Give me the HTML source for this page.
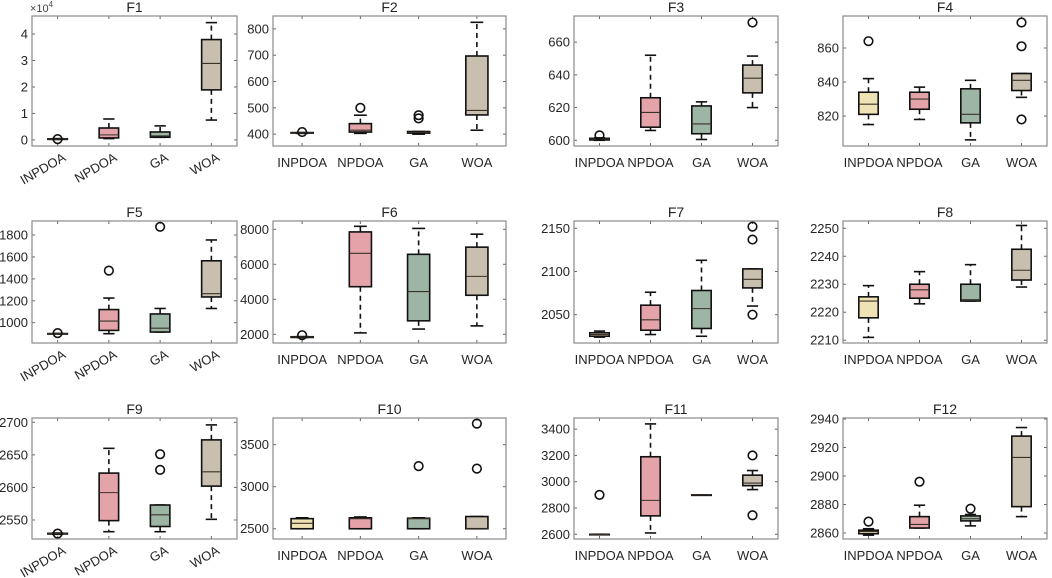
<!DOCTYPE html>
<html><head><meta charset="utf-8">
<style>
html,body{margin:0;padding:0;background:#fff;}
svg{display:block;font-family:"Liberation Sans",Arial,sans-serif;}
</style></head>
<body>
<svg id="chart" width="1052" height="578" viewBox="0 0 1052 578" xmlns="http://www.w3.org/2000/svg"></svg>
<script>
const categories = ["INPDOA","NPDOA","GA","WOA"];
const titles = ["F1","F2","F3","F4","F5","F6","F7","F8","F9","F10","F11","F12"];
const yMin = [-0.23,355,596.5,802.4,815,1503,2017.2,2209,2520.8,2378,2564,2855.8];
const yMax = [4.68,849,676,878.8,1928,8474,2158.5,2252.6,2706.6,3817,3485,2940.7];
const ticks = [
  [0,1,2,3,4],[400,500,600,700,800],[600,620,640,660],[820,840,860],
  [1000,1200,1400,1600,1800],[2000,4000,6000,8000],[2050,2100,2150],[2210,2220,2230,2240,2250],
  [2550,2600,2650,2700],[2500,3000,3500],[2600,2800,3000,3200,3400],[2860,2880,2900,2920,2940]
];
const lowWhisker = [
  [0.02,0.05,0.1,0.75],[403,403,400,415],[600,606,600.5,620],[815,818,806,831],
  [900,900,915,1130],[1820,2080,2300,2480],[2024,2027,2025,2060],[2211,2223,2224,2229],
  [2528,2532,2532,2551],[2500,2500,2500,2500],[2600,2610,2900,2940],[2858.5,2863.5,2865,2871.5]
];
const q1 = [
  [0.02,0.075,0.1,1.89],[404,408,404,473],[600.2,608,604,629],[821,824,816,835],
  [899,930,915,1235],[1820,4720,2770,4230],[2025,2032,2034,2081],[2218,2225,2224,2231.5],
  [2528.5,2549,2540,2602],[2500,2500,2500,2500],[2600,2740,2900,2970],[2859.5,2863.5,2868.5,2878.5]
];
const med = [
  [0.03,0.19,0.15,2.89],[405,415,407,490],[600.8,617,610,638],[827,830,821,841],
  [900,1015,950,1265],[1840,6630,4440,5310],[2027,2044,2057,2091],[2224,2228,2224.5,2235],
  [2529,2592,2558,2624],[2565,2620,2620,2500],[2600,2858,2900,2990],[2861,2866,2870,2913]
];
const q3 = [
  [0.04,0.45,0.3,3.79],[406,440,410,697],[601.2,626,621,646],[834,834,836,845],
  [901,1120,1080,1565],[1860,7850,6570,6980],[2029,2061,2078,2103],[2225.5,2230,2230,2242.5],
  [2529.5,2622,2573,2673],[2620,2630,2625,2645],[2600,3190,2900,3050],[2862,2871.5,2872,2928]
];
const upWhisker = [
  [0.05,0.79,0.53,4.43],[406,472,410,825],[601.5,652,623.5,651.5],[842,837,841,845],
  [902,1225,1130,1755],[1870,8170,8050,7720],[2031,2076,2113,2103],[2229.5,2234.5,2237,2251],
  [2530,2660,2573,2696],[2630,2640,2630,2645],[2600,3440,2900,3085],[2863,2879.5,2873,2934]
];
const outliers = [
  [[0.03],[],[],[]],[[408],[500],[460,472],[]],[[603],[],[],[672]],[[864],[],[],[875,861,818]],
  [[905],[1475],[1875],[]],[[1950],[],[],[]],[[],[],[],[2152,2137,2050]],[[],[],[],[]],
  [[2529],[],[2651,2627],[]],[[],[],[3245],[3750,3215]],[[2900],[],[],[3200,2745]],[[2868],[2896],[2877],[]]
];
const fills = ["#efe3b6","#e4a3a8","#9db5a5","#c8bfae"];

const NS="http://www.w3.org/2000/svg";
const svg=document.getElementById('chart');
function mk(tag,attrs,parent){const e=document.createElementNS(NS,tag);for(const k in attrs)e.setAttribute(k,attrs[k]);(parent||svg).appendChild(e);return e;}
const colL=[32,273,574,843], colR=[237,506,778,1047];
const rowT=[16,221,418], rowB=[146,343,539];

for(let p=0;p<12;p++){
  const c=p%4, r=Math.floor(p/4);
  const L=colL[c],R=colR[c],T=rowT[r],B=rowB[r];
  const g=mk('g',{});
  
  
  const X=i=>L+(i+0.5)*(R-L)/4;
  const Y=v=>B-(v-yMin[p])/(yMax[p]-yMin[p])*(B-T);
  const bw=(R-L)/4*0.38, cw=bw*0.58;
  const t=mk('text',{x:(L+R)/2,y:T-4,'text-anchor':'middle','font-size':14,fill:'#222'},g);
  t.textContent=titles[p];
  
  
  ticks[p].forEach(v=>{
    const y=Y(v);
    mk('line',{x1:L,x2:L+3,y1:y,y2:y,stroke:'#666','stroke-width':1},g);
    mk('line',{x1:R,x2:R-3,y1:y,y2:y,stroke:'#666','stroke-width':1},g);
    const tl=mk('text',{x:L-4,y:y+4.5,'text-anchor':'end','font-size':13,fill:'#262626'},g);
    tl.textContent=v;
    
    
  });
  if(p===0){
    const ex=mk('text',{x:L-2,y:T-4,'font-size':11,fill:'#444'},g);
    ex.innerHTML='×10<tspan dy="-5" font-size="8">4</tspan>';
    
    
  }
  categories.forEach((name,i)=>{
    const x=X(i);
    mk('line',{x1:x,x2:x,y1:B,y2:B-3,stroke:'#666','stroke-width':1},g);
    mk('line',{x1:x,x2:x,y1:T,y2:T+3,stroke:'#666','stroke-width':1},g);
    let lab;
    if(c===0){
      lab=mk('text',{x:x+9,y:B+14,'text-anchor':'end','font-size':13,fill:'#262626',transform:`rotate(-30 ${x+9} ${B+14})`},g);
    } else {
      lab=mk('text',{x:x,y:B+21,'text-anchor':'middle','font-size':13,fill:'#262626'},g);
    }
    lab.textContent=name;
    
    
  });
  categories.forEach((name,i)=>{
    const x=X(i);
    const bg=mk('g',{},g);
    
    
    const yq1=Y(q1[p][i]), yq3=Y(q3[p][i]), ylw=Y(lowWhisker[p][i]), yuw=Y(upWhisker[p][i]);
    mk('line',{x1:x,x2:x,y1:yq3,y2:yuw,stroke:'#111','stroke-width':1.6,'stroke-dasharray':'5,4'},bg);
    mk('line',{x1:x,x2:x,y1:yq1,y2:ylw,stroke:'#111','stroke-width':1.6,'stroke-dasharray':'5,4'},bg);
    mk('line',{x1:x-cw/2,x2:x+cw/2,y1:yuw,y2:yuw,stroke:'#111','stroke-width':1.6},bg);
    mk('line',{x1:x-cw/2,x2:x+cw/2,y1:ylw,y2:ylw,stroke:'#111','stroke-width':1.6},bg);
    mk('rect',{x:x-bw/2,y:yq3,width:bw,height:Math.max(yq1-yq3,0.5),fill:fills[i],stroke:'#111','stroke-width':1.6},bg);
    const ym=Y(med[p][i]);
    mk('line',{x1:x-bw/2,x2:x+bw/2,y1:ym,y2:ym,stroke:'#3a3228','stroke-width':1.1},bg);
    outliers[p][i].forEach(v=>{
      const o=mk('circle',{cx:x,cy:Y(v),r:4.3,fill:'none',stroke:'#111','stroke-width':1.6},bg);
      
      
    });
  });
  const frame=mk('rect',{x:L,y:T,width:R-L,height:B-T,fill:'none',stroke:'#8a8a8a','stroke-width':1.2},g);
  
  
}
</script>
</body></html>
